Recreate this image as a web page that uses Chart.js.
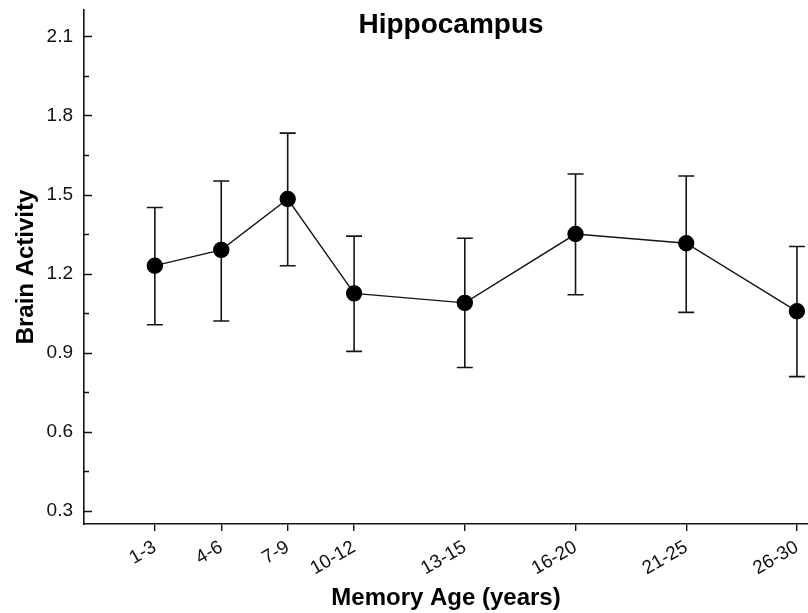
<!DOCTYPE html>
<html>
<head>
<meta charset="utf-8">
<script src="https://cdn.jsdelivr.net/npm/chart.js@4"></script>
<style>
  html, body { margin: 0; padding: 0; background: #fff; }
  canvas { display: block; }
</style>
</head>
<body>
<canvas id="hippoChart" width="808" height="613"></canvas>
<script>
// memory age bins and where they sit on the x axis
const ageLabels = ['1-3', '4-6', '7-9', '10-12', '13-15', '16-20', '21-25', '26-30'];
const agePos = [2, 5, 8, 11, 16, 21, 26, 31];

// mean activity with error bar ends
const meanActivity = [1.230, 1.290, 1.483, 1.125, 1.089, 1.350, 1.315, 1.057];
const upperActivity = [1.451, 1.551, 1.733, 1.342, 1.334, 1.578, 1.570, 1.303];
const lowerActivity = [1.006, 1.020, 1.230, 0.905, 0.844, 1.120, 1.053, 0.809];

// y axis ticks
const yMajorTicks = [0.3, 0.6, 0.9, 1.2, 1.5, 1.8, 2.1];

const ink = '#141414';
const fontFamily = '"Liberation Sans", Arial, sans-serif';

// error bars, inward y ticks and the panel title
const errorBarsPlugin = {
    id: 'errorBars',
    beforeDatasetsDraw(chart) {
        const ctx = chart.ctx;
        const xs = chart.scales.x;
        const ys = chart.scales.y;
        ctx.save();
        ctx.strokeStyle = ink;
        ctx.lineWidth = 1.6;
        for (let i = 0; i < agePos.length; i++) {
            const x = xs.getPixelForValue(agePos[i]);
            const yTop = ys.getPixelForValue(upperActivity[i]);
            const yBot = ys.getPixelForValue(lowerActivity[i]);
            ctx.beginPath();
            ctx.moveTo(x, yTop);
            ctx.lineTo(x, yBot);
            ctx.moveTo(x - 8, yTop);
            ctx.lineTo(x + 8, yTop);
            ctx.moveTo(x - 8, yBot);
            ctx.lineTo(x + 8, yBot);
            ctx.stroke();
        }
        ctx.restore();
    },
    afterDraw(chart) {
        const ctx = chart.ctx;
        const ys = chart.scales.y;
        const area = chart.chartArea;
        ctx.save();
        ctx.strokeStyle = ink;
        ctx.lineWidth = 1.4;
        ctx.beginPath();
        yMajorTicks.forEach(function(v, i) {
            const y = Math.round(ys.getPixelForValue(v)) + 0.5;
            ctx.moveTo(area.left, y);
            ctx.lineTo(area.left + 8, y);
            if (i < yMajorTicks.length - 1) {
                const ym = Math.round(ys.getPixelForValue(v + 0.15)) + 0.5;
                ctx.moveTo(area.left, ym);
                ctx.lineTo(area.left + 5, ym);
            }
        });
        ctx.stroke();

        ctx.fillStyle = '#000';
        ctx.font = 'bold 28px ' + fontFamily;
        ctx.textAlign = 'center';
        ctx.textBaseline = 'alphabetic';
        ctx.fillText('Hippocampus', (area.left + area.right) / 2 + 5, area.top + 23);
        ctx.restore();
    }
};

const ctx = document.getElementById('hippoChart');
new Chart(ctx.getContext('2d'), {
    type: 'scatter',
    data: {
        datasets: [{
            label: 'Hippocampus',
            data: agePos.map(function(x, i) { return { x: x, y: meanActivity[i] }; }),
            showLine: true,
            borderColor: ink,
            borderWidth: 1.4,
            backgroundColor: '#000',
            pointBackgroundColor: '#000',
            pointBorderColor: '#000',
            pointRadius: 7.5,
            pointHoverRadius: 7.5,
            tension: 0,
            clip: false
        }]
    },
    plugins: [errorBarsPlugin],
    options: {
        responsive: false,
        animation: false,
        layout: {
            autoPadding: false,
            padding: { top: 10, left: 0, right: 0, bottom: 0 }
        },
        plugins: {
            legend: { display: false },
            title: { display: false },
            tooltip: { enabled: false }
        },
        scales: {
            x: {
                type: 'linear',
                min: -1.2,
                max: 31.5,
                afterBuildTicks: function(scale) {
                    scale.ticks = agePos.map(function(v) { return { value: v }; });
                },
                afterFit: function(scale) {
                    scale.height = 89;
                    scale.paddingLeft = 0;
                    scale.paddingRight = 0;
                },
                border: { display: true, color: ink, width: 1.6 },
                grid: {
                    display: true,
                    drawOnChartArea: false,
                    drawTicks: true,
                    tickLength: 7,
                    color: ink,
                    lineWidth: 1.4
                },
                ticks: {
                    autoSkip: false,
                    minRotation: 30,
                    maxRotation: 30,
                    padding: 5,
                    color: '#111',
                    font: { family: fontFamily, size: 19 },
                    callback: function(value) {
                        const i = agePos.indexOf(value);
                        return i >= 0 ? ageLabels[i] : '';
                    }
                },
                title: {
                    display: true,
                    text: 'Memory Age (years)',
                    color: '#000',
                    font: { family: fontFamily, size: 24, weight: 'bold' },
                    padding: { top: 0, bottom: 0 }
                }
            },
            y: {
                min: 0.25,
                max: 2.2,
                afterBuildTicks: function(scale) {
                    scale.ticks = yMajorTicks.map(function(v) { return { value: v }; });
                },
                afterFit: function(scale) {
                    scale.width = 84;
                    scale.paddingTop = 0;
                    scale.paddingBottom = 0;
                },
                border: { display: true, color: ink, width: 1.6 },
                grid: {
                    display: true,
                    drawOnChartArea: false,
                    drawTicks: false
                },
                ticks: {
                    padding: 11,
                    color: '#111',
                    font: { family: fontFamily, size: 19 },
                    callback: function(value) {
                        return value.toFixed(1);
                    }
                },
                title: {
                    display: true,
                    text: 'Brain Activity',
                    color: '#000',
                    font: { family: fontFamily, size: 24, weight: 'bold' },
                    padding: { top: 12, bottom: 0 }
                }
            }
        }
    }
});
</script>
</body>
</html>
